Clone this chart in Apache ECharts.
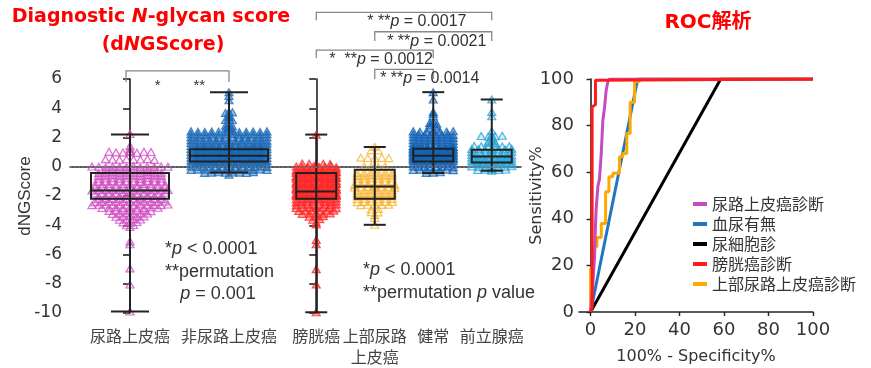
<!DOCTYPE html>
<html>
<head>
<meta charset="utf-8">
<script src="https://cdn.jsdelivr.net/npm/echarts@6/dist/echarts.min.js"></script>
<style>
  html, body { margin: 0; padding: 0; background: #fff; }
  #chart { width: 871px; height: 368px; }
</style>
</head>
<body>
<div id="chart"></div>
<script>
// categories
const groupsLeft = ['尿路上皮癌', '非尿路上皮癌'];
const groupsRight = ['膀胱癌', '上部尿路\n上皮癌', '健常', '前立腺癌'];
const scoreTicks = [-10, 6, 2];

// box stats [min, q1, median, q3, max]
const utcBox = [-9.9, -2.19, -1.62, -0.43, 2.2];
const nonUtcBox = [-0.39, 0.36, 0.75, 1.2, 5.1];
const bladderBox = [-9.95, -2.19, -1.69, -0.43, 2.2];
const upperBox = [-3.97, -2.19, -1.35, -0.2, 1.35];
const healthyBox = [-0.43, 0.36, 0.75, 1.23, 5.1];
const prostateBox = [-0.27, 0.29, 0.7, 1.16, 4.6];

// individual dNGScore values
const utcVals = [2.25, 1.42, 1.22,
  1.08, 1.02, 0.98, 0.97, 1.0, 0.95, 1.03, 1.01,
  0.52, 0.5, 0.48, 0.51, 0.49, 0.5, 0.53, 0.47,
  0.02, 0.0, -0.02, 0.01, -0.01, 0.0, 0.03, -0.03, 0.02, -0.02, 0.01, 0.0,
  -0.22, -0.2, -0.18, -0.21, -0.19, -0.2, -0.23, -0.17,
  -0.42, -0.4, -0.38, -0.41, -0.39, -0.4, -0.43, -0.37, -0.4, -0.41,
  -0.62, -0.6, -0.58, -0.61, -0.59, -0.6, -0.63, -0.57, -0.6, -0.61,
  -0.82, -0.8, -0.78, -0.81, -0.79, -0.8, -0.83, -0.77, -0.8, -0.81,
  -1.02, -1.0, -0.98, -1.01, -0.99, -1.0, -1.03, -0.97, -1.0, -1.01,
  -1.22, -1.2, -1.18, -1.21, -1.19, -1.2, -1.23, -1.17, -1.2, -1.21, -1.22,
  -1.42, -1.4, -1.38, -1.41, -1.39, -1.4, -1.43, -1.37, -1.4, -1.41, -1.38,
  -1.62, -1.6, -1.58, -1.61, -1.59, -1.6, -1.63, -1.57, -1.6, -1.61, -1.62, -1.58,
  -1.82, -1.8, -1.78, -1.81, -1.79, -1.8, -1.83, -1.77, -1.8, -1.81, -1.78,
  -2.02, -2.0, -1.98, -2.01, -1.99, -2.0, -2.03, -1.97, -2.0, -2.01,
  -2.22, -2.2, -2.18, -2.21, -2.19, -2.2, -2.23, -2.17, -2.2, -2.21,
  -2.42, -2.4, -2.38, -2.41, -2.39, -2.4, -2.43, -2.37, -2.4, -2.41, -2.38,
  -2.62, -2.6, -2.58, -2.61, -2.59, -2.6, -2.63, -2.57, -2.6, -2.61, -2.62, -2.58,
  -2.82, -2.8, -2.78, -2.81, -2.79, -2.8, -2.83, -2.77, -2.8,
  -3.02, -3.0, -2.98, -3.01, -2.99, -3.0, -3.03,
  -3.22, -3.2, -3.18, -3.21, -3.19, -3.2,
  -3.42, -3.4, -3.38, -3.41, -3.39,
  -3.62, -3.6, -3.58, -3.61,
  -3.8, -3.82, -3.78, -4.0, -3.98, -4.12,
  -5.1, -5.3, -6.95, -8.05, -9.9];

const nonUtcVals = [5.1, 4.85, 4.55, 3.75, 3.68, 3.72, 3.5, 3.4, 3.3, 3.2, 3.18, 2.95, 2.8, 2.78, 2.65, 2.6, 2.55,
  2.42, 2.4, 2.38, 2.41, 2.39, 2.4, 2.43, 2.37, 2.4, 2.41, 2.38, 2.42,
  2.22, 2.2, 2.18, 2.21, 2.19, 2.2, 2.23, 2.17, 2.2, 2.21, 2.18, 2.22,
  2.02, 2.0, 1.98, 2.01, 1.99, 2.0, 2.03, 1.97, 2.0, 2.01, 1.98, 2.02,
  1.82, 1.8, 1.78, 1.81, 1.79, 1.8, 1.83, 1.77, 1.8, 1.81, 1.78, 1.82, 1.79,
  1.62, 1.6, 1.58, 1.61, 1.59, 1.6, 1.63, 1.57, 1.6, 1.61, 1.58, 1.62, 1.59,
  1.42, 1.4, 1.38, 1.41, 1.39, 1.4, 1.43, 1.37, 1.4, 1.41, 1.38, 1.42, 1.39,
  1.32, 1.3, 1.28, 1.31, 1.29, 1.3, 1.33, 1.27, 1.3, 1.31,
  1.22, 1.2, 1.18, 1.21, 1.19, 1.2, 1.23, 1.17, 1.2, 1.21, 1.18, 1.22, 1.19, 1.2,
  1.12, 1.1, 1.08, 1.11, 1.09, 1.1, 1.13, 1.07, 1.1, 1.11,
  1.02, 1.0, 0.98, 1.01, 0.99, 1.0, 1.03, 0.97, 1.0, 1.01, 0.98, 1.02, 0.99, 1.0,
  0.92, 0.9, 0.88, 0.91, 0.89, 0.9, 0.93, 0.87, 0.9, 0.91,
  0.82, 0.8, 0.78, 0.81, 0.79, 0.8, 0.83, 0.77, 0.8, 0.81, 0.78, 0.82, 0.79, 0.8,
  0.72, 0.7, 0.68, 0.71, 0.69, 0.7, 0.73, 0.67, 0.7, 0.71,
  0.62, 0.6, 0.58, 0.61, 0.59, 0.6, 0.63, 0.57, 0.6, 0.61, 0.58, 0.62, 0.59, 0.6,
  0.52, 0.5, 0.48, 0.51, 0.49, 0.5, 0.53, 0.47, 0.5, 0.51,
  0.42, 0.4, 0.38, 0.41, 0.39, 0.4, 0.43, 0.37, 0.4, 0.41, 0.38, 0.42, 0.39, 0.4,
  0.32, 0.3, 0.28, 0.31, 0.29, 0.3, 0.33, 0.27, 0.3, 0.31,
  0.22, 0.2, 0.18, 0.21, 0.19, 0.2, 0.23, 0.17, 0.2, 0.21, 0.18, 0.22, 0.19,
  0.02, 0.0, -0.02, 0.01, -0.01, 0.0, 0.03, -0.03, 0.0, 0.01, -0.02, 0.02, -0.01,
  -0.22, -0.2, -0.18, -0.21, -0.19, -0.2, -0.23, -0.17, -0.2, -0.21, -0.18, -0.22,
  -0.42, -0.4, -0.38, -0.41, -0.39, -0.4, -0.43, -0.37,
  -0.55];

const bladderVals = [2.2, 0.22, 0.2, 0.18, 0.21, 0.19,
  0.02, 0.0, -0.02, 0.01, -0.01, 0.0, 0.03, -0.03,
  -0.22, -0.2, -0.18, -0.21, -0.19, -0.2, -0.23, -0.17,
  -0.32, -0.3, -0.28, -0.31, -0.29, -0.3, -0.33,
  -0.42, -0.4, -0.38, -0.41, -0.39, -0.4, -0.43, -0.37,
  -0.62, -0.6, -0.58, -0.61, -0.59, -0.6, -0.63, -0.57,
  -0.72, -0.7, -0.68, -0.71, -0.69, -0.7, -0.73,
  -0.82, -0.8, -0.78, -0.81, -0.79, -0.8, -0.83, -0.77,
  -1.02, -1.0, -0.98, -1.01, -0.99, -1.0, -1.03, -0.97,
  -1.12, -1.1, -1.08, -1.11, -1.09, -1.1, -1.13,
  -1.22, -1.2, -1.18, -1.21, -1.19, -1.2, -1.23, -1.17,
  -1.42, -1.4, -1.38, -1.41, -1.39, -1.4, -1.43, -1.37, -1.4,
  -1.52, -1.5, -1.48, -1.51, -1.49, -1.5, -1.53,
  -1.62, -1.6, -1.58, -1.61, -1.59, -1.6, -1.63, -1.57, -1.6, -1.61,
  -1.82, -1.8, -1.78, -1.81, -1.79, -1.8, -1.83, -1.77, -1.8, -1.81,
  -1.92, -1.9, -1.88, -1.91, -1.89, -1.9, -1.93,
  -2.02, -2.0, -1.98, -2.01, -1.99, -2.0, -2.03, -1.97, -2.0,
  -2.22, -2.2, -2.18, -2.21, -2.19, -2.2, -2.23, -2.17,
  -2.42, -2.4, -2.38, -2.41, -2.39, -2.4, -2.43, -2.37,
  -2.62, -2.6, -2.58, -2.61, -2.59, -2.6, -2.63, -2.57,
  -2.82, -2.8, -2.78, -2.81, -2.79, -2.8, -2.83,
  -3.02, -3.0, -2.98, -3.01, -2.99, -3.0,
  -3.22, -3.2, -3.18, -3.21, -3.19,
  -3.42, -3.4, -3.38, -3.62, -3.58, -3.8, -3.95,
  -5.0, -5.3, -7.0, -8.05, -9.95];

const upperVals = [1.35, 1.14, 1.12,
  0.62, 0.6, 0.58, 0.61, 0.59,
  0.02, 0.0, -0.02, 0.01,
  -0.42, -0.4, -0.38, -0.41, -0.39, -0.4,
  -0.62, -0.6, -0.58, -0.61, -0.59, -0.6,
  -0.82, -0.8, -0.78, -0.81, -0.79, -0.8,
  -1.02, -1.0, -0.98, -1.01, -0.99, -1.0,
  -1.22, -1.2, -1.18, -1.21, -1.19, -1.2, -1.23,
  -1.42, -1.4, -1.38, -1.41, -1.39, -1.4, -1.43,
  -1.62, -1.6, -1.58, -1.61, -1.59, -1.6,
  -1.82, -1.8, -1.78, -1.81, -1.79, -1.8,
  -2.02, -2.0, -1.98, -2.01, -1.99, -2.0,
  -2.22, -2.2, -2.18, -2.21, -2.19, -2.2,
  -2.42, -2.4, -2.38, -2.41, -2.39, -2.4,
  -2.62, -2.6, -2.58, -2.61, -2.59,
  -2.92, -2.88, -3.1, -3.12, -3.3, -3.5, -3.97];

const healthyVals = [5.1, 4.6, 3.75, 3.62, 3.45, 3.1, 3.0, 2.95, 2.82, 2.75, 2.62, 2.55,
  2.42, 2.4, 2.38, 2.41, 2.39, 2.4, 2.43,
  2.22, 2.2, 2.18, 2.21, 2.19, 2.2, 2.23, 2.17,
  2.02, 2.0, 1.98, 2.01, 1.99, 2.0, 2.03, 1.97,
  1.82, 1.8, 1.78, 1.81, 1.79, 1.8, 1.83, 1.77,
  1.62, 1.6, 1.58, 1.61, 1.59, 1.6, 1.63, 1.57,
  1.42, 1.4, 1.38, 1.41, 1.39, 1.4, 1.43, 1.37,
  1.32, 1.3, 1.28, 1.31, 1.29, 1.3, 1.33,
  1.22, 1.2, 1.18, 1.21, 1.19, 1.2, 1.23, 1.17, 1.2,
  1.12, 1.1, 1.08, 1.11, 1.09, 1.1, 1.13,
  1.02, 1.0, 0.98, 1.01, 0.99, 1.0, 1.03, 0.97, 1.0,
  0.92, 0.9, 0.88, 0.91, 0.89, 0.9, 0.93,
  0.82, 0.8, 0.78, 0.81, 0.79, 0.8, 0.83, 0.77, 0.8,
  0.72, 0.7, 0.68, 0.71, 0.69, 0.7, 0.73,
  0.62, 0.6, 0.58, 0.61, 0.59, 0.6, 0.63, 0.57, 0.6,
  0.52, 0.5, 0.48, 0.51, 0.49, 0.5, 0.53,
  0.42, 0.4, 0.38, 0.41, 0.39, 0.4, 0.43, 0.37, 0.4,
  0.22, 0.2, 0.18, 0.21, 0.19, 0.2, 0.23, 0.17,
  0.02, 0.0, -0.02, 0.01, -0.01, 0.0, 0.03, -0.03,
  -0.22, -0.2, -0.18, -0.21, -0.19, -0.2, -0.23,
  -0.42, -0.4, -0.38];

const prostateVals = [4.6, 3.75, 3.45, 2.45, 2.15, 2.1, 2.05, 2.08, 2.02, 2.12,
  1.75, 1.72, 1.65, 1.62, 1.58,
  1.42, 1.4, 1.38, 1.41, 1.39, 1.4,
  1.22, 1.2, 1.18, 1.21, 1.19, 1.2, 1.23,
  1.02, 1.0, 0.98, 1.01, 0.99, 1.0, 1.03,
  0.82, 0.8, 0.78, 0.81, 0.79, 0.8, 0.83, 0.77,
  0.62, 0.6, 0.58, 0.61, 0.59, 0.6, 0.63, 0.57,
  0.52, 0.5, 0.48, 0.51, 0.49,
  0.42, 0.4, 0.38, 0.41, 0.39, 0.4, 0.43, 0.37,
  0.32, 0.3, 0.28, 0.31, 0.29,
  0.22, 0.2, 0.18, 0.21, 0.19, 0.2, 0.23, 0.17,
  0.02, 0.0, -0.02, 0.01, -0.01, 0.0, 0.03,
  -0.22, -0.2, -0.18, -0.21, -0.19, -0.27];

// ROC curves [100% - specificity, sensitivity]
const rocUtc = [[0, 0], [1, 12], [1.8, 24], [2.2, 37], [2.5, 44], [3.3, 54], [4, 57], [4.8, 68], [5.5, 82], [6.3, 88], [7, 95], [7.8, 99], [8.5, 100], [100, 100]];
const rocHematuria = [[0, 0], [21.2, 100], [100, 100]];
const rocCytology = [[0, 0], [58.5, 100], [100, 100]];
const rocBladder = [[0, 0], [0.7, 2], [0.7, 88], [2.2, 89], [2.2, 99.5], [2.6, 100], [100, 100]];
const rocUpper = [[0, 0], [0, 18.6], [1.35, 18.6], [1.35, 28], [2.85, 28], [2.85, 32], [4.8, 32], [4.8, 38], [6.75, 38], [6.75, 51.6],
  [8.25, 51.6], [8.25, 58], [10, 58], [10, 59.5], [13, 59.5], [13, 66.6], [14.5, 66.6], [14.5, 68], [16.3, 68], [16.3, 76.6],
  [17.8, 76.6], [17.8, 90], [19.8, 90], [19.8, 98.9], [22, 98.9], [22, 100], [100, 100]];
const rocNames = ['尿路上皮癌診断', '血尿有無', '尿細胞診', '膀胱癌診断', '上部尿路上皮癌診断'];
const rocTicks = [0, 20, 40, 60, 80, 100];

const fSans = "'Liberation Sans', Arial, sans-serif";
const fNum = "'DejaVu Sans', sans-serif";
const fJp = "'Noto Sans CJK JP', sans-serif";

// beeswarm-like spread of points that share a row
function swarm(vals, pos, unitPx, halfPx) {
  const bins = {};
  vals.forEach(v => {
    const k = Math.round(v * 10);
    (bins[k] = bins[k] || []).push(v);
  });
  const out = [];
  Object.keys(bins).forEach(k => {
    const b = bins[k];
    const n = b.length;
    const step = n > 1 ? Math.min(7, 2 * halfPx / (n - 1)) : 0;
    b.forEach((v, i) => out.push([pos + (i - (n - 1) / 2) * step / unitPx, v]));
  });
  return out;
}

function dots(vals, pos, unitPx, halfPx, color, fill, gi) {
  return {
    type: 'scatter', xAxisIndex: gi, yAxisIndex: gi, silent: true, z: 2,
    data: swarm(vals, pos, unitPx, halfPx),
    symbol: 'triangle', symbolSize: [8, 7],
    itemStyle: {color: fill, borderColor: color, borderWidth: 1.2}
  };
}

function boxRender(halfPx, capPx) {
  return function (params, api) {
    const x = api.value(0);
    const p = [1, 2, 3, 4, 5].map(i => api.coord([x, api.value(i)]));
    const cx = p[0][0];
    const st = {stroke: '#222', lineWidth: 2, fill: 'none'};
    return {
      type: 'group', children: [
        {type: 'line', shape: {x1: cx, y1: p[0][1], x2: cx, y2: p[4][1]}, style: st},
        {type: 'line', shape: {x1: cx - capPx, y1: p[0][1], x2: cx + capPx, y2: p[0][1]}, style: st},
        {type: 'line', shape: {x1: cx - capPx, y1: p[4][1], x2: cx + capPx, y2: p[4][1]}, style: st},
        {type: 'rect', shape: {x: cx - halfPx, y: p[3][1], width: 2 * halfPx, height: p[1][1] - p[3][1]}, style: st},
        {type: 'line', shape: {x1: cx - halfPx, y1: p[2][1], x2: cx + halfPx, y2: p[2][1]}, style: st}
      ]
    };
  };
}

const zeroLine = {
  silent: true, symbol: 'none', label: {show: false},
  lineStyle: {type: [2, 2], color: '#777', width: 1.5},
  data: [{yAxis: 0}]
};

// significance brackets (p values from the figure)
const bracketsRight = [
  {from: 0, to: 3, top: 10.55, leg: 10.02, stars: '* **', p: '0.0017', tx: 1.72, ty: 9.92},
  {from: 1, to: 3, top: 9.23, leg: 8.6, stars: '* **', p: '0.0021', tx: 2.06, ty: 8.53},
  {from: 0, to: 2, top: 7.98, leg: 7.44, stars: '*  **', p: '0.0012', tx: 1.11, ty: 7.3},
  {from: 1, to: 2, top: 6.66, leg: 6.0, stars: '* **', p: '0.0014', tx: 1.94, ty: 6.0}
];
const bracketLeft = {from: -0.04, to: 1, top: 6.55, leg: 5.8, marks: [['*', 0.28], ['**', 0.7]], my: 5.55};

const richP = {
  s: {fontFamily: fSans, fontSize: 16, fill: '#333', color: '#333'},
  i: {fontFamily: fSans, fontSize: 16, fill: '#333', color: '#333', fontStyle: 'italic'}
};
const bStyle = {stroke: '#888', lineWidth: 1.3, fill: 'none'};

function bracketPath(api, b) {
  const a = api.coord([b.from, b.leg]), c = api.coord([b.from, b.top]);
  const d = api.coord([b.to, b.top]), e = api.coord([b.to, b.leg]);
  return {type: 'polyline', shape: {points: [a, c, d, e]}, style: bStyle};
}

const chart = echarts.init(document.getElementById('chart'), null, {renderer: 'canvas'});

const axisLineStyle = {show: true, lineStyle: {color: '#222', width: 1.6}};
const rich18 = {
  a: {fontFamily: fSans, fontSize: 18, fill: '#333', color: '#333'},
  i: {fontFamily: fSans, fontSize: 18, fill: '#333', color: '#333', fontStyle: 'italic'}
};
const titleRich = {
  b: {fontFamily: fNum, fontSize: 19, fontWeight: 'bold', fill: '#ff0000', color: '#ff0000'},
  bi: {fontFamily: fNum, fontSize: 19, fontWeight: 'bold', fontStyle: 'italic', fill: '#ff0000', color: '#ff0000'}
};

chart.setOption({
  animation: false,
  textStyle: {fontFamily: fSans},
  graphic: [
    {type: 'text', x: 151, y: 17, style: {text: '{b|Diagnostic }{bi|N}{b|-glycan score}', rich: titleRich, align: 'center', verticalAlign: 'middle'}},
    {type: 'text', x: 163, y: 45, style: {text: '{b|(d}{bi|N}{b|GScore)}', rich: titleRich, align: 'center', verticalAlign: 'middle'}},
    {type: 'text', x: 708, y: 23, style: {text: 'ROC解析', font: "bold 20px 'DejaVu Sans', 'Noto Sans CJK JP'", fill: '#ff0000', align: 'center', verticalAlign: 'middle'}},
    {type: 'text', x: 165, y: 249, style: {text: '{a|*}{i|p}{a| < 0.0001}', rich: rich18, verticalAlign: 'middle'}},
    {type: 'text', x: 165, y: 272, style: {text: '{a|**permutation}', rich: rich18, verticalAlign: 'middle'}},
    {type: 'text', x: 218, y: 294, style: {text: '{i|p}{a| = 0.001}', rich: rich18, align: 'center', verticalAlign: 'middle'}},
    {type: 'text', x: 363, y: 270, style: {text: '{a|*}{i|p}{a| < 0.0001}', rich: rich18, verticalAlign: 'middle'}},
    {type: 'text', x: 363, y: 293, style: {text: '{a|**permutation }{i|p}{a| value}', rich: rich18, verticalAlign: 'middle'}}
  ],
  legend: {
    data: rocNames, orient: 'vertical', left: 688, top: 189,
    icon: 'rect', itemWidth: 14, itemHeight: 4, itemGap: 0, selectedMode: false,
    textStyle: {fontFamily: fJp, fontSize: 16, color: '#333', lineHeight: 20}
  },
  grid: [
    {left: 70, top: 79, width: 217, height: 234, outerBoundsMode: 'none'},
    {left: 287, top: 79, width: 234, height: 234, outerBoundsMode: 'none'},
    {left: 579, top: 79, width: 234, height: 233, outerBoundsMode: 'none'}
  ],
  xAxis: [
    {
      gridIndex: 0, type: 'value', min: -0.606, max: 1.586,
      axisLine: axisLineStyle, splitLine: {show: false},
      axisTick: {show: true, length: 7, lineStyle: {color: '#222', width: 1.6}, customValues: [0, 1]},
      axisLabel: {customValues: [0, 1], formatter: v => groupsLeft[Math.round(v)], fontFamily: fJp, fontSize: 16, color: '#444', margin: 12, lineHeight: 21}
    },
    {
      gridIndex: 1, type: 'value', min: -0.5, max: 3.5,
      axisLine: axisLineStyle, splitLine: {show: false},
      axisTick: {show: true, length: 7, lineStyle: {color: '#222', width: 1.6}, customValues: [0, 1, 2, 3]},
      axisLabel: {customValues: [0, 1, 2, 3], formatter: v => groupsRight[Math.round(v)], fontFamily: fJp, fontSize: 16, color: '#444', margin: 12, lineHeight: 21}
    },
    {
      gridIndex: 2, type: 'value', min: -5.2, max: 100,
      name: '100% - Specificity%', nameLocation: 'middle', nameGap: 37, nameMoveOverlap: false,
      nameTextStyle: {fontFamily: fNum, fontSize: 16, color: '#333'},
      axisLine: axisLineStyle, splitLine: {show: false},
      axisTick: {show: true, length: 4, lineStyle: {color: '#222', width: 1.4}, customValues: rocTicks},
      axisLabel: {customValues: rocTicks, fontFamily: fNum, fontSize: 18, color: '#333', margin: 9}
    }
  ],
  yAxis: [
    {
      gridIndex: 0, type: 'value', min: scoreTicks[0], max: scoreTicks[1], interval: scoreTicks[2],
      name: 'dNGScore', nameLocation: 'middle', nameGap: 36, nameMoveOverlap: false,
      nameTextStyle: {fontFamily: fSans, fontSize: 17, color: '#333'},
      axisLine: axisLineStyle, splitLine: {show: false},
      axisTick: {show: true, length: 7, lineStyle: {color: '#222', width: 1.6}},
      axisLabel: {fontFamily: fNum, fontSize: 17, color: '#333', margin: 8}
    },
    {
      gridIndex: 1, type: 'value', min: scoreTicks[0], max: scoreTicks[1], interval: scoreTicks[2],
      axisLine: axisLineStyle, splitLine: {show: false},
      axisTick: {show: true, length: 7, lineStyle: {color: '#222', width: 1.6}},
      axisLabel: {show: false}
    },
    {
      gridIndex: 2, type: 'value', min: 0, max: 100, interval: 20,
      name: 'Sensitivity%', nameLocation: 'middle', nameGap: 34, nameMoveOverlap: false,
      nameTextStyle: {fontFamily: fNum, fontSize: 16, color: '#333'},
      axisLine: axisLineStyle, splitLine: {show: false},
      axisTick: {show: true, length: 4, lineStyle: {color: '#222', width: 1.4}},
      axisLabel: {fontFamily: fNum, fontSize: 18, color: '#333', margin: 5}
    }
  ],
  series: [
    dots(utcVals, 0, 99, 38, '#d04fc2', 'rgba(208,79,194,0.1)', 0),
    dots(nonUtcVals, 1, 99, 38, '#1f6db8', 'rgba(10,90,175,0.5)', 0),
    {
      type: 'custom', xAxisIndex: 0, yAxisIndex: 0, z: 3, silent: true, clip: false,
      renderItem: boxRender(39, 19),
      data: [[0].concat(utcBox), [1].concat(nonUtcBox)],
      markLine: zeroLine
    },
    {
      type: 'custom', xAxisIndex: 0, yAxisIndex: 0, z: 3, silent: true, clip: false,
      renderItem: function (params, api) {
        const b = bracketLeft;
        const kids = [bracketPath(api, b)];
        b.marks.forEach(m => {
          const pt = api.coord([m[1], b.my]);
          kids.push({type: 'text', style: {text: m[0], x: pt[0], y: pt[1], align: 'center', verticalAlign: 'middle', font: '15px ' + fSans, fill: '#333'}});
        });
        return {type: 'group', children: kids};
      },
      data: [[bracketLeft.from, bracketLeft.top]]
    },
    dots(bladderVals, 0, 58.5, 20, '#ff2a2a', 'rgba(255,30,30,0.45)', 1),
    dots(upperVals, 1, 58.5, 20, '#f7b435', 'rgba(0,0,0,0)', 1),
    dots(healthyVals, 2, 58.5, 20, '#1565b5', 'rgba(10,90,175,0.45)', 1),
    dots(prostateVals, 3, 58.5, 20, '#2aa6da', 'rgba(30,160,215,0.25)', 1),
    {
      type: 'custom', xAxisIndex: 1, yAxisIndex: 1, z: 3, silent: true, clip: false,
      renderItem: boxRender(20, 11),
      data: [[0].concat(bladderBox), [1].concat(upperBox), [2].concat(healthyBox), [3].concat(prostateBox)],
      markLine: zeroLine
    },
    {
      type: 'custom', xAxisIndex: 1, yAxisIndex: 1, z: 3, silent: true, clip: false,
      renderItem: function (params, api) {
        const b = bracketsRight[params.dataIndex];
        const pt = api.coord([b.tx, b.ty]);
        return {
          type: 'group', children: [
            bracketPath(api, b),
            {type: 'text', style: {text: '{s|' + b.stars + '}{i|p}{s| = ' + b.p + '}', rich: richP, x: pt[0], y: pt[1], align: 'center', verticalAlign: 'middle'}}
          ]
        };
      },
      data: bracketsRight.map(b => [b.from, b.top])
    },
    {type: 'line', name: rocNames[2], xAxisIndex: 2, yAxisIndex: 2, data: rocCytology, symbol: 'none', z: 3, lineStyle: {color: '#000', width: 3}, itemStyle: {color: '#000'}},
    {type: 'line', name: rocNames[1], xAxisIndex: 2, yAxisIndex: 2, data: rocHematuria, symbol: 'none', z: 4, lineStyle: {color: '#1f77c4', width: 3}, itemStyle: {color: '#1f77c4'}},
    {type: 'line', name: rocNames[4], xAxisIndex: 2, yAxisIndex: 2, data: rocUpper, symbol: 'none', z: 5, lineStyle: {color: '#ffa800', width: 3}, itemStyle: {color: '#ffa800'}},
    {type: 'line', name: rocNames[0], xAxisIndex: 2, yAxisIndex: 2, data: rocUtc, symbol: 'none', z: 6, lineStyle: {color: '#c44bc0', width: 3}, itemStyle: {color: '#c44bc0'}},
    {type: 'line', name: rocNames[3], xAxisIndex: 2, yAxisIndex: 2, data: rocBladder, symbol: 'none', z: 7, lineStyle: {color: '#ff1a1a', width: 3}, itemStyle: {color: '#ff1a1a'}}
  ]
});
</script>
</body>
</html>
